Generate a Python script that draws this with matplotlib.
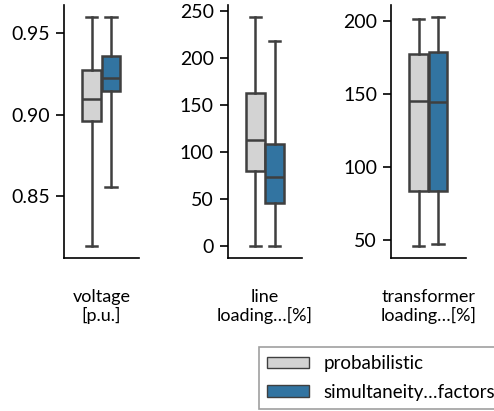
import matplotlib
matplotlib.use("Agg")
import matplotlib.pyplot as plt
from matplotlib.patches import Patch

plt.rcParams['font.family'] = ['Lato', 'DejaVu Sans']

# quantities shown in each panel
labels = ["voltage\n[p.u.]", "line\nloading…[%]", "transformer\nloading…[%]"]
methods = ["probabilistic", "simultaneity…factors"]
colors = ["#d3d3d3", "#3274a1"]

# box statistics: (whislo, q1, med, q3, whishi) per method
voltage = [(0.8193, 0.8963, 0.9094, 0.9275, 0.960),
           (0.856, 0.9143, 0.9223, 0.936, 0.960)]
line_loading = [(0.0, 79.8, 113.0, 162.8, 244.0),
                (0.0, 45.7, 73.7, 108.5, 218.0)]
trafo_loading = [(45.9, 83.6, 145.4, 177.4, 201.4),
                 (47.3, 83.6, 144.7, 178.7, 203.0)]
panels = [voltage, line_loading, trafo_loading]
yticks = [[0.85, 0.90, 0.95], [0, 50, 100, 150, 200, 250], [50, 100, 150, 200]]
yfmt = ["{:.2f}", "{:.0f}", "{:.0f}"]

fig = plt.figure(figsize=(4.94, 4.11), dpi=100)
lefts = [0.1296, 0.4609, 0.7915]
edge = "#3f3f3f"

for i, (stats, lab) in enumerate(zip(panels, labels)):
    ax = fig.add_axes([lefts[i], 0.3723, 0.151, 0.6155])
    bx = []
    for s in stats:
        bx.append(dict(whislo=s[0], q1=s[1], med=s[2], q3=s[3], whishi=s[4], fliers=[]))
    b = ax.bxp(bx, positions=[-0.13, 0.13], widths=0.25, patch_artist=True,
               showfliers=False,
               boxprops=dict(edgecolor=edge, linewidth=1.8),
               medianprops=dict(color=edge, linewidth=1.8),
               whiskerprops=dict(color=edge, linewidth=1.8),
               capprops=dict(color=edge, linewidth=1.8))
    for patch, c in zip(b["boxes"], colors):
        patch.set_facecolor(c)
    for cap in b["caps"]:
        x = cap.get_xdata()
        m = (x[0] + x[1]) / 2
        cap.set_xdata([m - 0.075, m + 0.075])
    ax.set_xlim(-0.5, 0.5)
    ax.set_xticks([])
    ax.set_yticks(yticks[i])
    ax.set_yticklabels([yfmt[i].format(v) for v in yticks[i]])
    ax.tick_params(axis='y', labelsize=14, length=6, width=1.2, pad=4)
    ax.set_xlabel(lab, fontsize=13, labelpad=22, linespacing=1.15)
    for sp in ["top", "right"]:
        ax.spines[sp].set_visible(False)
    for sp in ["left", "bottom"]:
        ax.spines[sp].set_linewidth(1.2)

handles = [Patch(facecolor=c, edgecolor=edge, linewidth=1) for c in colors]
leg = fig.legend(handles, methods, loc="upper left",
                 bbox_to_anchor=(259 / 494, 1 - 347 / 411), borderaxespad=0,
                 fontsize=13.5, fancybox=False, framealpha=1,
                 edgecolor="#a0a0a0", handlelength=2.24, handleheight=0.55,
                 borderpad=0.45, labelspacing=0.6, handletextpad=0.75)
leg.get_frame().set_linewidth(1.2)

fig.savefig("out.png", dpi=100)
